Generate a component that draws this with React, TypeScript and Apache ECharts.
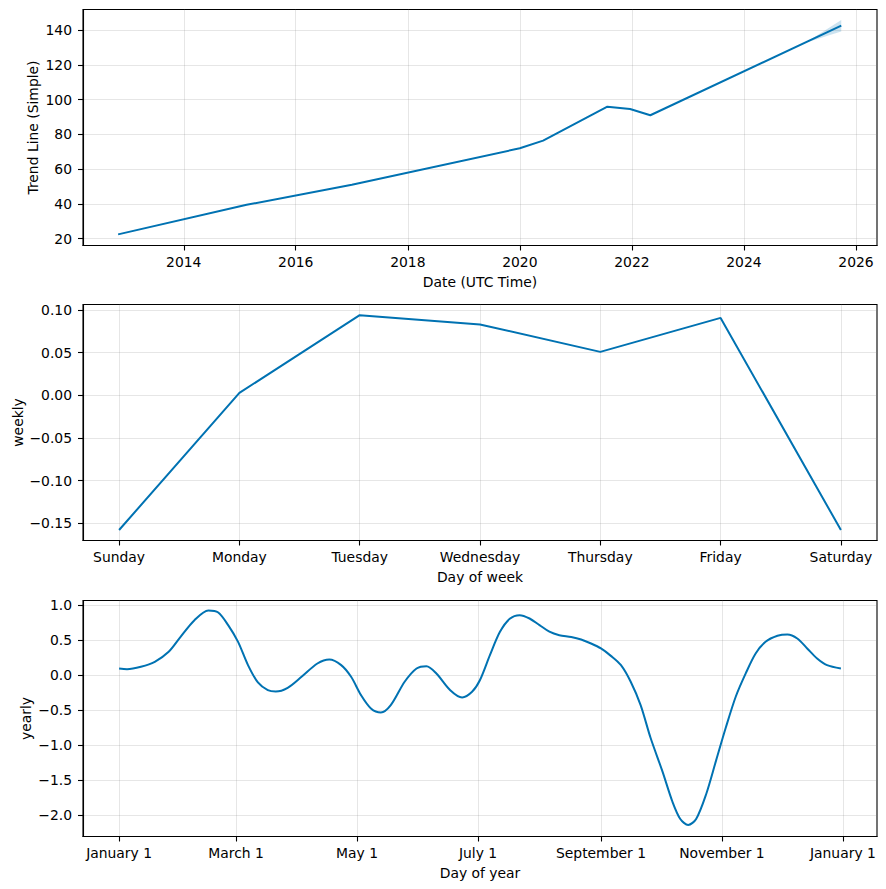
import React, { useEffect, useRef } from "react";
import * as echarts from "echarts";

// ---- Trend panel data ----
const trendDates = ["2012-10-30", "2015-02-15", "2017-01-01", "2020-01-01", "2020-06-01", "2021-07-25", "2021-12-20", "2022-05-01", "2025-09-27"];
const trendValues = [22.5, 39.5, 51.0, 72.0, 76.4, 95.9, 94.6, 91.0, 142.5];
const bandDates = ["2025-02-01", "2025-05-01", "2025-07-15", "2025-09-27"];
const bandUpper = [132.6, 137.4, 141.6, 145.8];
const bandLower = [132.6, 135.0, 137.2, 139.2];
const trendTickYears = [2014, 2016, 2018, 2020, 2022, 2024, 2026];
const trendYTicks = [20, 40, 60, 80, 100, 120, 140];

// ---- Weekly panel data ----
const weekDays = ["Sunday", "Monday", "Tuesday", "Wednesday", "Thursday", "Friday", "Saturday"];
const weeklyValues = [-0.158, 0.0027, 0.0938, 0.0829, 0.0508, 0.0906, -0.158];
const weeklyYTicks = [-0.15, -0.1, -0.05, 0, 0.05, 0.1];

// ---- Yearly panel data ----
const yearlyDays = [0, 4, 11, 18, 25, 31, 38, 45, 50, 55, 60, 65, 70, 75, 79, 85, 92, 100, 106, 112, 117, 122, 127, 132, 137, 144, 150, 155, 160, 167, 173, 178, 182, 187, 192, 197, 202, 207, 212, 217, 222, 228, 233, 238, 243, 248, 253, 258, 263, 268, 274, 279, 283, 287, 291, 296, 301, 306, 311, 316, 321, 326, 332, 337, 342, 347, 352, 357, 364];
const yearlyValues = [0.10, 0.09, 0.124, 0.195, 0.338, 0.552, 0.79, 0.929, 0.90, 0.719, 0.48, 0.148, -0.10, -0.21, -0.229, -0.176, -0.019, 0.171, 0.229, 0.148, -0.019, -0.281, -0.471, -0.529, -0.424, -0.09, 0.10, 0.133, 0.029, -0.21, -0.314, -0.233, -0.065, 0.29, 0.62, 0.81, 0.862, 0.814, 0.72, 0.625, 0.576, 0.55, 0.514, 0.457, 0.386, 0.28, 0.15, -0.09, -0.424, -0.89, -1.37, -1.80, -2.05, -2.135, -2.05, -1.70, -1.22, -0.74, -0.30, 0.03, 0.314, 0.481, 0.567, 0.586, 0.529, 0.386, 0.243, 0.148, 0.10];
const yearlyTickDays = [0, 59, 120, 181, 243, 304, 365];
const yearlyTickLabels = ["January 1", "March 1", "May 1", "July 1", "September 1", "November 1", "January 1"];
const yearlyYTicks = [-2, -1.5, -1, -0.5, 0, 0.5, 1];

const FONT = "DejaVu Sans";
const FS = 13.9;
const LINE = "#0072B2";

const ts = (d: string) => Date.parse(d + "T00:00:00Z");
const minus = (s: string) => s.replace("-", "\u2212");

export default function App() {
  const ref = useRef<HTMLDivElement>(null);
  useEffect(() => {
    if (!ref.current) return;
    const chart = echarts.init(ref.current, undefined, { renderer: "svg" });

    const labelBase = { color: "#000", fontFamily: FONT, fontSize: FS };
    const tick = (custom: number[]) => ({
      show: true,
      inside: false,
      length: 5,
      customValues: custom,
      lineStyle: { color: "#000", width: 1.1 },
    });
    const split = { show: true, lineStyle: { color: "rgba(128,128,128,0.2)", width: 1 } };
    const axisLine = { show: true, onZero: false, lineStyle: { color: "#000", width: 1.1 } };
    const nameStyle = { color: "#000", fontFamily: FONT, fontSize: FS };
    const gridBase = {
      left: 83,
      right: 9,
      height: 236,
      show: true,
      borderColor: "#000",
      borderWidth: 1.1,
      containLabel: false,
      outerBoundsMode: "none",
    };
    const nameBase = { nameLocation: "middle", nameMoveOverlap: false, nameTextStyle: nameStyle };

    const trendTickTs = trendTickYears.map((y) => Date.UTC(y, 0, 1));

    const option: any = {
      animation: false,
      backgroundColor: "#fff",
      grid: [
        { ...gridBase, top: 9.5 },
        { ...gridBase, top: 304.5 },
        { ...gridBase, top: 600.5 },
      ],
      xAxis: [
        {
          type: "value",
          gridIndex: 0,
          min: Date.UTC(2012, 2, 15),
          max: Date.UTC(2026, 4, 18),
          axisLine,
          axisTick: tick(trendTickTs),
          axisLabel: {
            ...labelBase,
            margin: 9,
            customValues: trendTickTs,
            formatter: (v: number) => String(new Date(v).getUTCFullYear()),
          },
          splitLine: split,
          name: "Date (UTC Time)",
          nameGap: 29,
          ...nameBase,
        },
        {
          type: "value",
          gridIndex: 1,
          min: -0.3,
          max: 6.3,
          axisLine,
          axisTick: tick([0, 1, 2, 3, 4, 5, 6]),
          axisLabel: {
            ...labelBase,
            margin: 9,
            customValues: [0, 1, 2, 3, 4, 5, 6],
            formatter: (v: number) => weekDays[Math.round(v)] ?? "",
          },
          splitLine: split,
          name: "Day of week",
          nameGap: 29,
          ...nameBase,
        },
        {
          type: "value",
          gridIndex: 2,
          min: -18.2,
          max: 382.2,
          axisLine,
          axisTick: tick(yearlyTickDays),
          axisLabel: {
            ...labelBase,
            margin: 9,
            customValues: yearlyTickDays,
            formatter: (v: number) => {
              const i = yearlyTickDays.indexOf(Math.round(v));
              return i >= 0 ? yearlyTickLabels[i] : "";
            },
          },
          splitLine: split,
          name: "Day of year",
          nameGap: 29,
          ...nameBase,
        },
      ],
      yAxis: [
        {
          type: "value",
          gridIndex: 0,
          min: 16.1,
          max: 151.8,
          axisLine,
          axisTick: tick(trendYTicks),
          axisLabel: { ...labelBase, margin: 11, customValues: trendYTicks, formatter: (v: number) => String(Math.round(v)) },
          splitLine: split,
          name: "Trend Line (Simple)",
          nameGap: 43,
          ...nameBase,
        },
        {
          type: "value",
          gridIndex: 1,
          min: -0.1703,
          max: 0.1063,
          axisLine,
          axisTick: tick(weeklyYTicks),
          axisLabel: { ...labelBase, margin: 11, customValues: weeklyYTicks, formatter: (v: number) => minus(v.toFixed(2)) },
          splitLine: split,
          name: "weekly",
          nameGap: 58,
          ...nameBase,
        },
        {
          type: "value",
          gridIndex: 2,
          min: -2.3,
          max: 1.071,
          axisLine,
          axisTick: tick(yearlyYTicks),
          axisLabel: { ...labelBase, margin: 11, customValues: yearlyYTicks, formatter: (v: number) => minus(v.toFixed(1)) },
          splitLine: split,
          name: "yearly",
          nameGap: 50,
          ...nameBase,
        },
      ],
      series: [
        {
          type: "custom",
          xAxisIndex: 0,
          yAxisIndex: 0,
          silent: true,
          data: bandDates.map((d, i) => [ts(d), bandLower[i], bandUpper[i]]),
          encode: { x: 0, y: [1, 2] },
          renderItem: (params: any, api: any) => {
            if (params.dataIndex !== 0) return { type: "group", children: [] };
            const up = bandDates.map((d, i) => api.coord([ts(d), bandUpper[i]]));
            const lo = bandDates.map((d, i) => api.coord([ts(d), bandLower[i]])).reverse();
            return {
              type: "polygon",
              shape: { points: up.concat(lo) },
              style: { fill: "rgba(0,114,178,0.2)", stroke: "none" },
            };
          },
        },
        {
          type: "line",
          xAxisIndex: 0,
          yAxisIndex: 0,
          symbol: "none",
          lineStyle: { color: LINE, width: 2 },
          data: trendDates.map((d, i) => [ts(d), trendValues[i]]),
        },
        {
          type: "line",
          xAxisIndex: 1,
          yAxisIndex: 1,
          symbol: "none",
          lineStyle: { color: LINE, width: 2 },
          data: weeklyValues.map((v, i) => [i, v]),
        },
        {
          type: "line",
          xAxisIndex: 2,
          yAxisIndex: 2,
          symbol: "none",
          smooth: 0.3,
          lineStyle: { color: LINE, width: 2 },
          data: yearlyDays.map((d, i) => [d, yearlyValues[i]]),
        },
      ],
    };
    chart.setOption(option);
    return () => chart.dispose();
  }, []);

  return (
    <div
      ref={ref}
      style={{ position: "fixed", left: 0, top: 0, width: 886, height: 889, background: "#fff" }}
    />
  );
}
